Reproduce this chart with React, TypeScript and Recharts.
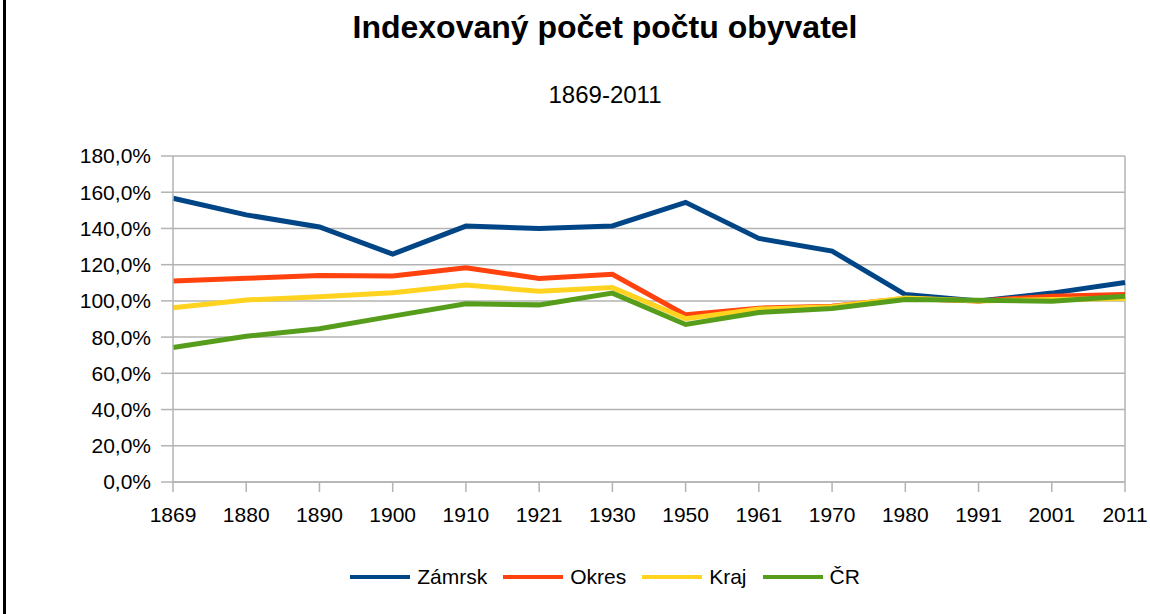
import React from 'react'
import { LineChart, Line, XAxis, YAxis, CartesianGrid, Legend, ReferenceLine } from 'recharts'

const years = ['1869', '1880', '1890', '1900', '1910', '1921', '1930', '1950', '1961', '1970', '1980', '1991', '2001', '2011']
const zamrsk = [156.7, 147.5, 140.8, 125.8, 141.3, 140.0, 141.4, 154.4, 134.5, 127.5, 103.5, 100.0, 104.3, 110.2]
const okres = [111.0, 112.5, 114.0, 113.8, 118.3, 112.4, 114.7, 92.3, 96.0, 97.0, 101.3, 100.0, 102.6, 103.5]
const kraj = [96.2, 100.5, 102.3, 104.5, 108.7, 105.3, 107.4, 90.2, 95.5, 96.8, 101.6, 100.0, 100.8, 101.3]
const cr = [74.3, 80.5, 84.6, 91.6, 98.4, 97.8, 104.3, 87.0, 93.6, 95.8, 100.7, 100.3, 99.8, 102.6]
const yTicks = [0, 20, 40, 60, 80, 100, 120, 140, 160, 180]

const series = [
  { key: 'zamrsk', name: 'Zámrsk', color: '#004586', values: zamrsk },
  { key: 'okres', name: 'Okres', color: '#ff420e', values: okres },
  { key: 'kraj', name: 'Kraj', color: '#ffd320', values: kraj },
  { key: 'cr', name: 'ČR', color: '#579d1c', values: cr },
]

const data = years.map((year, i) => {
  const row: Record<string, string | number> = { year }
  series.forEach((s) => {
    row[s.key] = s.values[i]
  })
  return row
})

const font = '"Liberation Sans", Arial, sans-serif'
const gridColor = '#b3b3b3'

const fmtPct = (v: number) => v.toFixed(1).replace('.', ',') + '%'

// keep the legend in series order (recharts sorts payload by name otherwise)
const LegendContent = () => (
  <div style={{ display: 'flex', justifyContent: 'center', alignItems: 'center', fontFamily: font, fontSize: 21, color: '#000' }}>
    {series.map((s) => (
      <div key={s.key} style={{ display: 'flex', alignItems: 'center', margin: '0 8px' }}>
        <div style={{ width: 60, height: 4, background: s.color, marginRight: 7 }} />
        <span>{s.name}</span>
      </div>
    ))}
  </div>
)

export default function App() {
  return (
    <div style={{ position: 'absolute', left: 0, top: 0, width: 1150, height: 614, background: '#fff', fontFamily: font, overflow: 'hidden' }}>
      <div style={{ position: 'absolute', left: 3, top: 0, width: 3, height: 614, background: '#000' }} />
      <div style={{ position: 'absolute', left: 305, top: 11, width: 600, textAlign: 'center', fontSize: 32, lineHeight: '32px', fontWeight: 'bold', color: '#000' }}>
        Indexovaný počet počtu obyvatel
      </div>
      <div style={{ position: 'absolute', left: 305, top: 83, width: 600, textAlign: 'center', fontSize: 24, lineHeight: '24px', color: '#000' }}>
        1869-2011
      </div>
      <LineChart width={1150} height={614} data={data} margin={{ top: 156, right: 25, left: 0, bottom: 72 }}>
        <CartesianGrid vertical={false} stroke={gridColor} strokeWidth={1.5} />
        <XAxis
          dataKey="year"
          height={60}
          stroke={gridColor}
          strokeWidth={1.5}
          tickSize={10}
          tickMargin={15}
          tick={{ fill: '#000', fontSize: 21, fontFamily: font }}
          interval={0}
        />
        <YAxis
          domain={[0, 180]}
          ticks={yTicks}
          width={173}
          stroke={gridColor}
          strokeWidth={1.5}
          tickSize={12}
          tickMargin={10}
          tickFormatter={fmtPct}
          tick={{ fill: '#000', fontSize: 21, fontFamily: font }}
        />
        <ReferenceLine x="2011" stroke={gridColor} strokeWidth={1.5} />
        {series.map((s) => (
          <Line
            key={s.key}
            type="linear"
            dataKey={s.key}
            name={s.name}
            stroke={s.color}
            strokeWidth={5}
            dot={false}
            activeDot={false}
            isAnimationActive={false}
          />
        ))}
        <Legend
          verticalAlign="middle"
          align="center"
          layout="horizontal"
          content={<LegendContent />}
          wrapperStyle={{ position: 'absolute', top: 565, left: 305, width: 600 }}
        />
      </LineChart>
    </div>
  )
}
